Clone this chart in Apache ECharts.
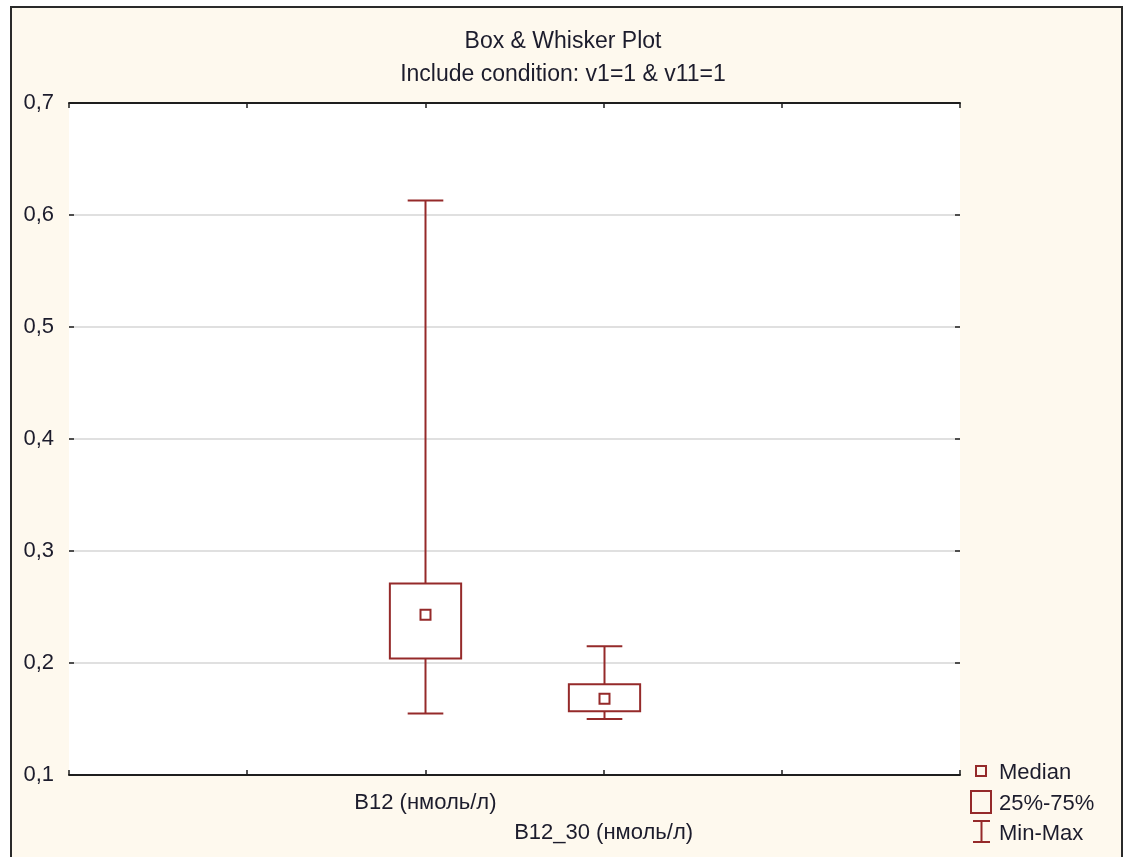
<!DOCTYPE html>
<html>
<head>
<meta charset="utf-8">
<script src="https://cdn.jsdelivr.net/npm/echarts@6/dist/echarts.min.js"></script>
<style>
  html, body { margin: 0; padding: 0; background: #ffffff; }
  #frame {
    position: absolute; left: 10px; top: 6px; width: 1113px; height: 900px;
    border: 2px solid #2a2a2a; background: #fef9ee; box-sizing: border-box;
  }
  #chart { position: absolute; left: 0; top: 0; width: 1126px; height: 857px; }
</style>
</head>
<body>
<div id="frame"></div>
<div id="chart"></div>
<script>
// Variables shown on the horizontal axis
const variables = ['B12 (нмоль/л)', 'B12_30 (нмоль/л)'];
// Five-number summaries per variable
const minValues    = [0.155, 0.150];
const q1Values     = [0.204, 0.157];
const medianValues = [0.243, 0.168];
const q3Values     = [0.271, 0.181];
const maxValues    = [0.613, 0.215];
// Vertical axis ticks
const yTicks = [0.1, 0.2, 0.3, 0.4, 0.5, 0.6, 0.7];

// Two empty slots on each side of the plotted variables
const axisSlots = ['', ''].concat(variables, ['', '']);
const firstSlot = 2;

const boxColor = '#952a2a';
const textColor = '#1c1c2c';
const fontFamily = '"Liberation Sans", Arial, sans-serif';
const fontSize = 22;

const seriesData = variables.map((v, i) => [
  firstSlot + i, minValues[i], q1Values[i], medianValues[i], q3Values[i], maxValues[i]
]);

function renderBox(params, api) {
  const idx = api.value(0);
  const pMin = api.coord([idx, api.value(1)]);
  const pQ1 = api.coord([idx, api.value(2)]);
  const pMed = api.coord([idx, api.value(3)]);
  const pQ3 = api.coord([idx, api.value(4)]);
  const pMax = api.coord([idx, api.value(5)]);
  const band = api.size([1, 0])[0];
  const boxHalf = band * 0.2;
  const capHalf = band * 0.1;
  const medHalf = 5;
  const cx = Math.round(pMed[0]) + 0.5;
  const style = { stroke: boxColor, fill: null, lineWidth: 2 };
  return {
    type: 'group',
    children: [
      { type: 'line', shape: { x1: cx, y1: pMax[1], x2: cx, y2: pQ3[1] }, style },
      { type: 'line', shape: { x1: cx - capHalf, y1: pMax[1], x2: cx + capHalf, y2: pMax[1] }, style },
      { type: 'line', shape: { x1: cx, y1: pQ1[1], x2: cx, y2: pMin[1] }, style },
      { type: 'line', shape: { x1: cx - capHalf, y1: pMin[1], x2: cx + capHalf, y2: pMin[1] }, style },
      { type: 'rect', shape: { x: cx - boxHalf, y: pQ3[1], width: boxHalf * 2, height: pQ1[1] - pQ3[1] },
        style: { stroke: boxColor, fill: '#ffffff', lineWidth: 2 } },
      { type: 'rect', shape: { x: cx - medHalf, y: pMed[1] - medHalf, width: medHalf * 2, height: medHalf * 2 },
        style: { stroke: boxColor, fill: '#ffffff', lineWidth: 2 } }
    ]
  };
}

const chart = echarts.init(document.getElementById('chart'), null, { renderer: 'canvas' });

const axisLineStyle = { lineStyle: { color: '#1e1e1e', width: 2 } };
const tickStyle = { show: true, inside: true, length: 5, lineStyle: { color: '#1e1e1e', width: 1.5 } };

chart.setOption({
  backgroundColor: 'transparent',
  animation: false,
  textStyle: { fontFamily },
  title: {
    text: 'Box & Whisker Plot',
    subtext: 'Include condition: v1=1 & v11=1',
    left: 'center',
    top: 25,
    itemGap: 10,
    textStyle: { fontSize: 23, fontWeight: 'normal', color: textColor, fontFamily },
    subtextStyle: { fontSize: 23, color: textColor, fontFamily }
  },
  grid: {
    left: 69, top: 103, right: 166, bottom: 82,
    show: true, backgroundColor: '#ffffff', borderWidth: 0
  },
  xAxis: [
    {
      type: 'category',
      data: axisSlots,
      boundaryGap: false,
      position: 'bottom',
      axisLine: axisLineStyle,
      axisTick: Object.assign({ interval: 0 }, tickStyle),
      splitLine: { show: false },
      axisLabel: {
        interval: 0,
        margin: 17,
        fontSize,
        color: textColor,
        formatter: (value, index) => {
          if (!value) return '';
          return ((index - firstSlot) % 2 === 0) ? '{a|' + value + '}' : '{b|' + value + '}';
        },
        rich: {
          a: { fontSize, color: textColor, fontFamily },
          b: { fontSize, color: textColor, fontFamily, padding: [30, 0, 0, 0] }
        }
      }
    },
    {
      type: 'category',
      data: axisSlots,
      boundaryGap: false,
      position: 'top',
      axisLine: axisLineStyle,
      axisTick: Object.assign({ interval: 0 }, tickStyle),
      axisLabel: { show: false },
      splitLine: { show: false }
    }
  ],
  yAxis: [
    {
      type: 'value',
      min: yTicks[0],
      max: yTicks[yTicks.length - 1],
      interval: 0.1,
      position: 'left',
      axisLine: axisLineStyle,
      axisTick: tickStyle,
      axisLabel: {
        margin: 15,
        fontSize,
        color: textColor,
        formatter: v => v.toFixed(1).replace('.', ',')
      },
      splitLine: { show: true, lineStyle: { color: '#d6d6d6', width: 1.5 } }
    },
    {
      type: 'value',
      min: yTicks[0],
      max: yTicks[yTicks.length - 1],
      interval: 0.1,
      position: 'right',
      axisLine: axisLineStyle,
      axisTick: tickStyle,
      axisLabel: { show: false },
      splitLine: { show: false }
    }
  ],
  series: [
    {
      type: 'custom',
      xAxisIndex: 0,
      yAxisIndex: 0,
      renderItem: renderBox,
      data: seriesData,
      z: 5
    }
  ],
  graphic: [
    { type: 'rect', shape: { x: 976, y: 766, width: 10, height: 10 },
      style: { stroke: boxColor, fill: null, lineWidth: 2 } },
    { type: 'text', x: 999, y: 773,
      style: { text: 'Median', fontSize, fill: textColor, fontFamily, verticalAlign: 'middle' } },
    { type: 'rect', shape: { x: 971, y: 791, width: 20, height: 22 },
      style: { stroke: boxColor, fill: null, lineWidth: 2 } },
    { type: 'text', x: 999, y: 804,
      style: { text: '25%-75%', fontSize, fill: textColor, fontFamily, verticalAlign: 'middle' } },
    { type: 'line', shape: { x1: 973, y1: 821, x2: 990, y2: 821 }, style: { stroke: boxColor, lineWidth: 2 } },
    { type: 'line', shape: { x1: 981.5, y1: 821, x2: 981.5, y2: 842 }, style: { stroke: boxColor, lineWidth: 2 } },
    { type: 'line', shape: { x1: 973, y1: 842, x2: 990, y2: 842 }, style: { stroke: boxColor, lineWidth: 2 } },
    { type: 'text', x: 999, y: 834,
      style: { text: 'Min-Max', fontSize, fill: textColor, fontFamily, verticalAlign: 'middle' } }
  ]
});
</script>
</body>
</html>
